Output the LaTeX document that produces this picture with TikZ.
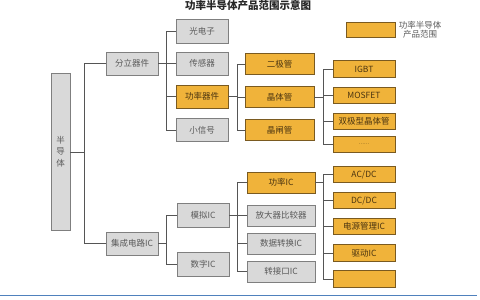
\documentclass[tikz,border=0pt]{standalone}
\usepackage{fontspec}
\setmainfont{Noto Sans CJK SC}
\definecolor{gfill}{HTML}{D9D9D9}
\definecolor{gline}{HTML}{7F7F7F}
\definecolor{gtext}{HTML}{595959}
\definecolor{ofill}{HTML}{F0B33A}
\definecolor{oline}{HTML}{7A5A20}
\definecolor{otext}{HTML}{4A3410}
\definecolor{conncol}{HTML}{555555}
\definecolor{rulecol}{HTML}{4F81BD}
\tikzset{
  base/.style={inner sep=0pt, line width=0.9pt, font=\fontsize{8.5}{10}\selectfont},
  gbox/.style={base, draw=gline, fill=gfill, text=gtext},
  obox/.style={base, draw=oline, fill=ofill, text=otext},
  conn/.style={draw=conncol, line width=0.9pt},
}
\begin{document}
\begin{tikzpicture}[x=1pt,y=-1pt]
\useasboundingbox (0,0) rectangle (480,300);
% title
\node[font=\fontsize{10.5}{12}\selectfont\bfseries, text=black!85] (title) at (248,6) {功率半导体产品范围示意图};
% legend
\node[obox, minimum width=49pt, minimum height=15pt] (leg) at (370.5,29.5) {};
\node[font=\fontsize{8.5}{9.5}\selectfont, text=gtext, align=center] (legtext) at (420,30) {功率半导体\\产品范围};
% coordinates of spines
\coordinate (s1) at (84,0);
\coordinate (s2) at (166,0);
\coordinate (s3) at (237,0);
\coordinate (s4) at (323,0);
% column 1
\node[gbox, minimum width=19pt, minimum height=157pt, align=center, font=\fontsize{8.5}{11.5}\selectfont] (hb) at (60.5,151.5) {半\\导\\体};
% column 2
\node[gbox, minimum width=52pt, minimum height=23pt] (fl) at (132,63.5) {分立器件};
\node[gbox, minimum width=52pt, minimum height=23pt] (jc) at (132,243.5) {集成电路IC};
% column 3
\node[gbox, minimum width=52pt, minimum height=24pt] (gd) at (202,31) {光电子};
\node[gbox, minimum width=52pt, minimum height=23pt] (cg) at (202,63.5) {传感器};
\node[obox, minimum width=52pt, minimum height=23pt] (gl) at (202,96.5) {功率器件};
\node[gbox, minimum width=52pt, minimum height=23pt] (xx) at (202,130) {小信号};
\node[gbox, minimum width=52pt, minimum height=24pt] (mn) at (203,215) {模拟IC};
\node[gbox, minimum width=52pt, minimum height=24pt] (sz) at (203,264) {数字IC};
% column 4
\node[obox, minimum width=69pt, minimum height=21pt] (ej) at (279.5,64) {二极管};
\node[obox, minimum width=69pt, minimum height=21pt] (jt) at (279.5,97) {晶体管};
\node[obox, minimum width=69pt, minimum height=21pt] (jz) at (279.5,130) {晶闸管};
\node[obox, minimum width=68pt, minimum height=21pt] (gic) at (281,182.5) {功率IC};
\node[gbox, minimum width=68pt, minimum height=21pt] (fd) at (281,215.5) {放大器比较器};
\node[gbox, minimum width=68pt, minimum height=21pt] (sj) at (281,243.5) {数据转换IC};
\node[gbox, minimum width=68pt, minimum height=21pt] (zj) at (281,271.5) {转接口IC};
% column 5
\node[obox, minimum width=62pt, minimum height=16.5pt] (igbt) at (364,69) {IGBT};
\node[obox, minimum width=62pt, minimum height=16.5pt] (mos) at (364,95.5) {MOSFET};
\node[obox, minimum width=62pt, minimum height=16.5pt] (sjx) at (364,121.5) {双极型晶体管};
\node[obox, minimum width=62pt, minimum height=16.5pt, font=\fontsize{5}{6}\selectfont] (dots) at (364,144.5) {……};
\node[obox, minimum width=62pt, minimum height=16.5pt] (acdc) at (364,174.5) {AC/DC};
\node[obox, minimum width=62pt, minimum height=16.5pt] (dcdc) at (364,200.5) {DC/DC};
\node[obox, minimum width=62pt, minimum height=16.5pt] (dy) at (364,226.5) {电源管理IC};
\node[obox, minimum width=62pt, minimum height=16.5pt] (qd) at (364,253) {驱动IC};
\node[obox, minimum width=62pt, minimum height=16.5pt] (blank) at (364,279) {};
% connectors level 1
\draw[conn] (hb.east |- 0,152) -- (s1 |- 0,152);
\draw[conn] (fl.west) -- (fl.west -| s1) -- (jc.west -| s1) -- (jc.west);
% level 2
\draw[conn] (fl.east) -- (fl.east -| s2);
\draw[conn] (gd.west) -- (gd.west -| s2) -- (xx.west -| s2) -- (xx.west);
\draw[conn] (cg.west) -- (cg.west -| s2);
\draw[conn] (gl.west) -- (gl.west -| s2);
\draw[conn] (jc.east) -- (jc.east -| s2);
\draw[conn] (mn.west) -- (mn.west -| s2) -- (sz.west -| s2) -- (sz.west);
% level 3
\draw[conn] (gl.east) -- (gl.east -| s3);
\draw[conn] (ej.west) -- (ej.west -| s3) -- (jz.west -| s3) -- (jz.west);
\draw[conn] (jt.west) -- (jt.west -| s3);
\draw[conn] (mn.east) -- (mn.east -| s3);
\draw[conn] (gic.west) -- (gic.west -| s3) -- (zj.west -| s3) -- (zj.west);
\draw[conn] (fd.west) -- (fd.west -| s3);
\draw[conn] (sj.west) -- (sj.west -| s3);
% level 4
\draw[conn] (jt.east) -- (jt.east -| s4);
\draw[conn] (igbt.west) -- (igbt.west -| s4) -- (dots.west -| s4) -- (dots.west);
\draw[conn] (mos.west) -- (mos.west -| s4);
\draw[conn] (sjx.west) -- (sjx.west -| s4);
\draw[conn] (gic.east) -- (gic.east -| s4);
\draw[conn] (acdc.west) -- (acdc.west -| s4) -- (blank.west -| s4) -- (blank.west);
\draw[conn] (dcdc.west) -- (dcdc.west -| s4);
\draw[conn] (dy.west) -- (dy.west -| s4);
\draw[conn] (qd.west) -- (qd.west -| s4);
% bottom rule
\coordinate (rl) at (0,295);
\coordinate (rr) at (477,295);
\draw[draw=rulecol, line width=1pt] (rl) -- (rr);
\end{tikzpicture}
\end{document}
